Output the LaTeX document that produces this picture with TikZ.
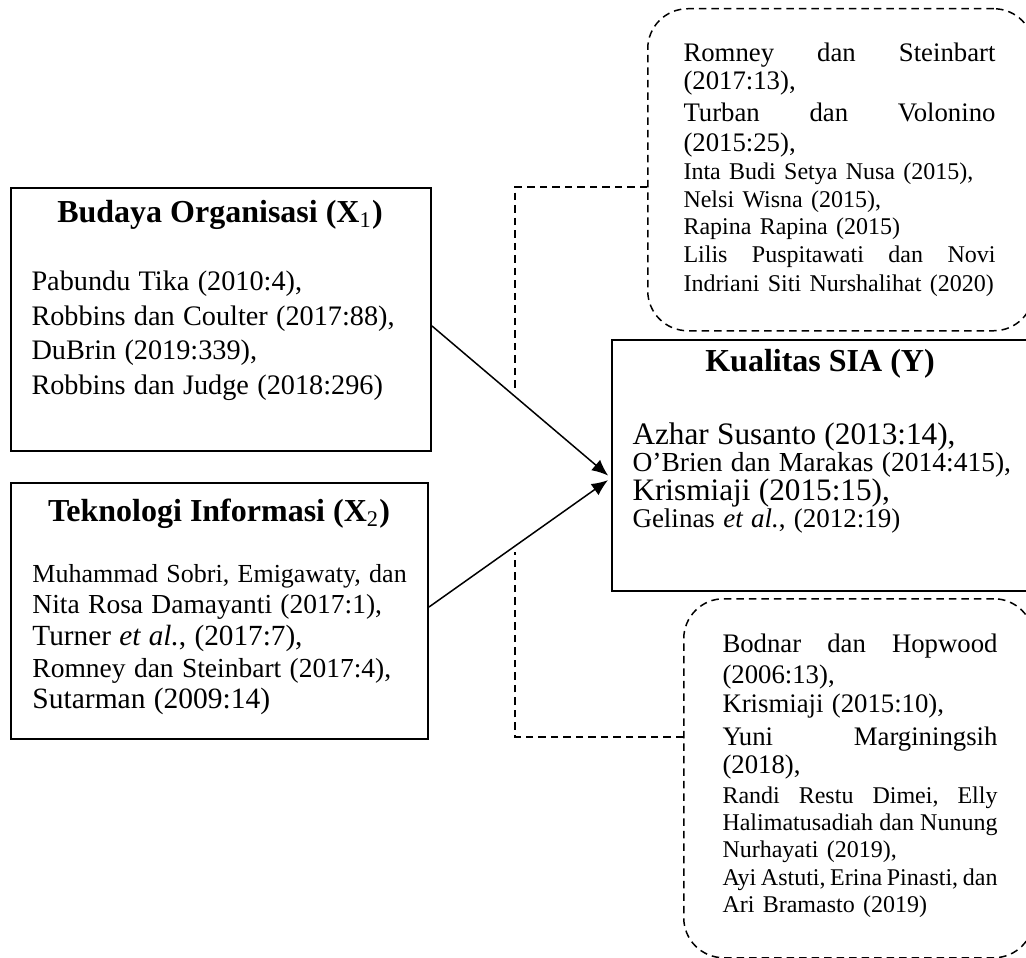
\documentclass[tikz,border=0pt]{standalone}
\usepackage{fontspec}
\setmainfont{Liberation Serif}
\usetikzlibrary{arrows.meta,positioning}
\setlength{\parindent}{0pt}
\lineskiplimit=-100pt
\newcommand{\refsz}[2]{\fontsize{#1}{#2}\selectfont}
\newcommand{\spread}[2]{\hbox to #1{#2}}

\begin{document}
\begin{tikzpicture}[x=0.4pt,y=-0.4pt,
    box/.style={draw,line width=0.8pt,inner sep=0pt,anchor=north west},
    note/.style={draw,line width=0.6pt,dash pattern=on 3pt off 2pt,
      rounded corners=16pt,inner sep=0pt,anchor=north west},
    head/.style={anchor=base,inner sep=0pt,font=\refsz{12.8}{15}\bfseries},
    body/.style={anchor=base west,inner sep=0pt},
    link/.style={line width=0.6pt,dash pattern=on 3pt off 2pt},
    arr/.style={line width=0.6pt,-{Latex[length=6.5pt,width=5.5pt]},shorten >=1.5pt}]
  \useasboundingbox (0,0) rectangle (1026,958);

  % variabel bebas (kiri)
  \node[box,minimum width=168pt,minimum height=105.2pt] (budaya) at (10,187) {};
  \node[head] (budayahead) at (220,223) {Budaya Organisasi (X\textsubscript{\mdseries 1})};
  \node[body,text width=160pt] (budayatxt) at (31,291) {%
    \refsz{11.3}{13.8}Pabundu Tika (2010:4),\par
    Robbins dan Coulter (2017:88),\par
    DuBrin (2019:339),\par
    Robbins dan Judge (2018:296)\par};

  \node[box,minimum width=166.8pt,minimum height=102.4pt] (teknologi) at (10,482) {};
  \node[head] (teknologihead) at (219,522) {Teknologi Informasi (X\textsubscript{\mdseries 2})};
  \node[body,text width=160pt] (teknologitxt) at (32,582) {%
    \refsz{10.4}{12.6}Muhammad Sobri, Emigawaty, dan\par
    \refsz{11}{12.4}Nita Rosa Damayanti (2017:1),\par
    \refsz{11.7}{12.8}Turner \textit{et al.}, (2017:7),\par
    \refsz{11}{12.8}Romney dan Steinbart (2017:4),\par
    \refsz{11.8}{12.4}Sutarman (2009:14)\par};

  % variabel terikat (kanan)
  \node[box,minimum width=167.6pt,minimum height=100.4pt] (kualitas) at (611,339) {};
  \node[head] (kualitashead) at (820,372) {Kualitas SIA (Y)};
  \node[body,text width=160pt] (kualitastxt) at (632,445) {%
    \refsz{12.5}{13}Azhar Susanto (2013:14),\par
    \refsz{11}{10.6}O'Brien dan Marakas (2014:415),\par
    \refsz{12.5}{11.6}Krismiaji (2015:15),\par
    \refsz{10.8}{10.8}Gelinas \textit{et al.}, (2012:19)\par};

  % catatan teori (putus-putus)
  \node[note,minimum width=154.4pt,minimum height=128.8pt] (topnote) at (647,8) {};
  \node[body,text width=124.8pt] (topnotetxt) at (683,62) {%
    \refsz{10.7}{12}\spread{124.8pt}{Romney\hfill dan\hfill Steinbart}\par
    \refsz{10.7}{11.2}(2017:13),\par
    \refsz{10.7}{12.8}\spread{124.8pt}{Turban\hfill dan\hfill Volonino}\par
    \refsz{10.7}{12}(2015:25),\par
    \refsz{9.6}{11.2}Inta Budi Setya Nusa (2015),\par
    \refsz{9.6}{11.2}Nelsi Wisna (2015),\par
    \refsz{9.6}{10.8}Rapina Rapina (2015)\par
    \refsz{9.6}{11.2}\spread{124.8pt}{Lilis\hfill Puspitawati\hfill dan\hfill Novi}\par
    \refsz{9.6}{11.6}Indriani Siti Nurshalihat (2020)\par};

  \node[note,minimum width=140pt,minimum height=143.6pt] (bottomnote) at (683,598) {};
  \node[body,text width=110pt] (bottomnotetxt) at (722,652) {%
    \refsz{10.7}{12}\spread{110pt}{Bodnar\hfill dan\hfill Hopwood}\par
    \refsz{10.7}{12.4}(2006:13),\par
    \refsz{10.7}{11.6}Krismiaji (2015:10),\par
    \refsz{10.7}{13.2}\spread{110pt}{Yuni\hfill Marginingsih}\par
    \refsz{10.7}{11.2}(2018),\par
    \refsz{9.6}{12}\spread{110pt}{Randi\hfill Restu\hfill Dimei,\hfill Elly}\par
    \refsz{9.6}{10.8}\spread{110pt}{Halimatusadiah\hfill dan\hfill Nunung}\par
    \refsz{9.6}{10.8}Nurhayati (2019),\par
    \refsz{9.6}{11.2}\spread{110pt}{Ayi\hfill Astuti,\hfill Erina\hfill Pinasti,\hfill dan}\par
    \refsz{9.6}{10.8}Ari Bramasto (2019)\par};

  % garis putus-putus penghubung
  \coordinate (upend) at (515,390);
  \coordinate (lowend) at (515,552);
  \draw[link] ([yshift=-7pt]topnote.west) -| (upend);
  \draw[link] ([yshift=16.6pt]bottomnote.west) -| (lowend);

  % panah pengaruh
  \draw[arr] ([yshift=-2.6pt]budaya.east) -- ([yshift=-5pt]kualitas.west);
  \draw[arr] ([yshift=1.6pt]teknologi.east) -- ([yshift=-5pt]kualitas.west);
\end{tikzpicture}
\end{document}
